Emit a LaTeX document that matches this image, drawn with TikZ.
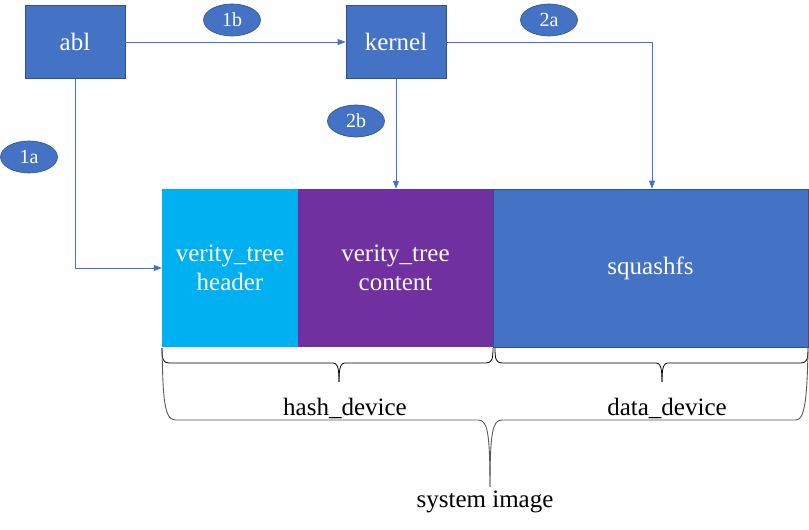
\documentclass[tikz,border=0pt]{standalone}
\usepackage{fontspec}
\setmainfont{Liberation Serif}
\usetikzlibrary{arrows.meta,shapes.geometric}
\definecolor{boxblue}{HTML}{4472C4}
\definecolor{boxedge}{HTML}{2F528F}
\definecolor{treecyan}{HTML}{00B0F0}
\definecolor{treepurple}{HTML}{7030A0}
\tikzset{
  block/.style={rectangle, fill=boxblue, draw=boxedge, line width=0.8pt, text=white,
    minimum width=100pt, minimum height=73pt, font=\fontsize{25}{29}\selectfont},
  part/.style={rectangle, minimum height=158pt, text=white, align=center,
    inner sep=0pt, font=\fontsize{25}{29}\selectfont},
  tag/.style={ellipse, fill=boxblue, draw=boxedge, line width=0.6pt, text=white,
    minimum width=57pt, minimum height=32pt, inner sep=0pt, font=\fontsize{20}{24}\selectfont},
  flow/.style={draw=boxblue, line width=0.8pt, -{Triangle[length=8pt,width=6pt]}},
  label/.style={font=\fontsize{25}{29}\selectfont},
}
\begin{document}
\begin{tikzpicture}[x=1pt,y=1pt]
\useasboundingbox (0,0) rectangle (809,530);
% loaders
\node[block] (abl) at (75,488) {abl};
\node[block] (kernel) at (396,488) {kernel};
% step tags
\node[tag] (t1b) at (232,510) {1b};
\node[tag] (t2a) at (549,510) {2a};
\node[tag] (t2b) at (356,409) {2b};
\node[tag] (t1a) at (29,373) {1a};
% image layout
\node[part, fill=treecyan, minimum width=136pt] (header) at (230,262) {verity\_tree\\header};
\node[part, fill=treepurple, minimum width=195pt] (content) at (395.5,262) {verity\_tree\\content};
\node[part, fill=boxblue, draw=boxedge, line width=0.6pt, minimum width=315pt] (squashfs) at (650.5,262) {squashfs};
% connectors
\draw[flow] (abl.east) -- (kernel.west);
\draw[flow] (abl.south) |- (header.west);
\draw[flow] (kernel.south) -- (kernel.south |- content.north);
\draw[flow] (kernel.east) -| ([xshift=1.5pt]squashfs.north);
% braces
\draw[line width=0.8pt] (162,182) .. controls (162,171) and (163,167) .. (169,167) -- (333,167)
  .. controls (337,167) and (339,164) .. (339,148);
\draw[line width=0.8pt] (339,148) .. controls (339,164) and (341,167) .. (345,167) -- (486,167)
  .. controls (492,167) and (493,171) .. (493,182);
\draw[line width=0.8pt] (495,182) .. controls (495,171) and (496,167) .. (502,167) -- (656,167)
  .. controls (660,167) and (662,164) .. (662,148);
\draw[line width=0.8pt] (662,148) .. controls (662,164) and (664,167) .. (668,167) -- (801,167)
  .. controls (807,167) and (808,171) .. (808,182);
\draw[line width=0.9pt, black!65] (162,182) .. controls (163,140) and (163,110) .. (175,110) -- (478,110)
  .. controls (487,110) and (490,100) .. (490,43);
\draw[line width=0.9pt, black!65] (490,43) .. controls (490,100) and (493,110) .. (502,110) -- (796,110)
  .. controls (806,110) and (807,140) .. (808,178);
% labels
\node[label] (hash) at (345,122) {hash\_device};
\node[label] (data) at (667,122) {data\_device};
\node[label] (sysimg) at (485,28) {system image};
\end{tikzpicture}
\end{document}
